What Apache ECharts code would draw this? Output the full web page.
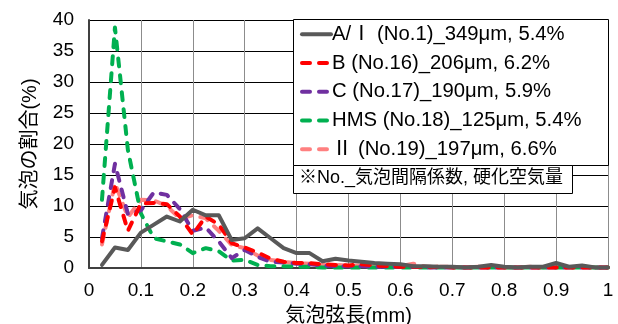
<!DOCTYPE html>
<html><head><meta charset="utf-8">
<script src="https://cdn.jsdelivr.net/npm/echarts@6/dist/echarts.min.js"></script>
<style>html,body{margin:0;padding:0;background:#fff}#c{width:618px;height:324px}</style>
</head><body><div id="c"></div>
<script>
const xValues = [0.025,0.05,0.075,0.1,0.125,0.15,0.175,0.2,0.225,0.25,0.275,0.3,0.325,0.35,0.375,0.4,0.425,0.45,0.475,0.5,0.525,0.55,0.575,0.6,0.625,0.65,0.675,0.7,0.725,0.75,0.775,0.8,0.825,0.85,0.875,0.9,0.925,0.95,0.975,1.0];
const seriesNames = ["A/Ⅰ (No.1)_349μm, 5.4%","B (No.16)_206μm, 6.2%","C (No.17)_190μm, 5.9%","HMS (No.18)_125μm, 5.4%","Ⅱ (No.19)_197μm, 6.6%"];
const valuesA = [0.5,3.3,2.9,5.7,7.0,8.3,7.5,9.4,8.5,8.5,4.5,4.8,6.4,4.8,3.2,2.4,2.4,1.1,1.5,1.2,1.0,0.8,0.7,0.6,0.3,0.3,0.2,0.2,0.1,0.2,0.5,0.2,0.1,0.2,0.2,0.8,0.2,0.4,0.1,0.1];
const valuesB = [4.3,13.0,6.0,10.4,10.5,10.3,8.3,5.4,8.3,7.0,4.0,3.3,2.5,1.5,1.0,0.8,0.8,0.6,0.5,0.4,0.6,0.4,0.3,0.2,0.2,0.1,0.2,0.1,0.1,0.1,0.1,0.1,0.1,0.1,0.1,0.1,0.1,0.1,0.1,0.1];
const valuesC = [4.8,16.8,8.7,9.3,12.2,11.8,9.5,6.0,6.5,4.3,1.6,2.9,1.8,1.0,0.9,0.7,0.6,0.4,0.3,0.3,0.3,0.2,0.2,0.2,0.2,0.1,0.1,0.1,0.1,0.1,0.1,0.1,0.1,0.1,0.1,0.1,0.1,0.1,0.1,0.1];
const valuesHMS = [11.0,38.8,19.0,8.8,4.8,4.3,3.8,2.4,3.2,2.7,1.2,1.3,0.5,0.3,0.3,0.2,0.2,0.1,0.1,0.1,0.1,0.1,0.1,0.1,0.1,0.1,0.1,0.1,0.1,0.1,0.1,0.1,0.1,0.1,0.1,0.1,0.1,0.1,0.1,0.1];
const valuesII = [3.8,13.7,8.2,11.0,10.9,10.0,8.0,8.5,8.0,6.0,3.7,3.2,2.0,1.3,1.0,0.8,0.7,0.5,0.5,0.4,0.4,0.3,0.3,0.3,0.7,0.2,0.2,0.2,0.1,0.2,0.2,0.1,0.1,0.2,0.1,0.2,0.1,0.2,0.1,0.1];
const xTitle = "気泡弦長(mm)";
const yTitle = "気泡の割合(%)";
const noteText = "※No._気泡間隔係数, 硬化空気量";

const allValues = [valuesA, valuesB, valuesC, valuesHMS, valuesII];
const colors = ["#595959","#FF0000","#7030A0","#00B050","#FF8080"];
const FONT = "'Liberation Sans', Arial, 'Noto Sans CJK JP', sans-serif";

const chart = echarts.init(document.getElementById('c'));
const series = allValues.map((vals, i) => ({
  name: seriesNames[i],
  type: 'line',
  symbol: 'none',
  data: xValues.map((x, j) => [x, vals[j]]),
  lineStyle: { color: colors[i], width: 4, type: i === 0 ? 'solid' : [8, 9], cap: 'round', join: 'round' },
  itemStyle: { color: colors[i] },
  z: 10 - i
}));

chart.setOption({
  animation: false,
  textStyle: { fontFamily: FONT },
  grid: { left: 89, right: 10, top: 20, bottom: 56, containLabel: false, outerBoundsMode: 'none' },
  xAxis: {
    type: 'value', min: 0, max: 1, interval: 0.1,
    axisLine: { show: true, onZero: false, lineStyle: { color: '#404040', width: 2 } },
    axisTick: { show: false },
    splitLine: { show: true, lineStyle: { color: '#8c8c8c', width: 1 } },
    axisLabel: { color: '#000', fontSize: 19, margin: 13, fontFamily: FONT },
    name: xTitle, nameLocation: 'middle', nameGap: 38,
    nameTextStyle: { color: '#000', fontSize: 20, fontFamily: FONT }
  },
  yAxis: {
    type: 'value', min: 0, max: 40, interval: 5,
    axisLine: { show: true, lineStyle: { color: '#404040', width: 2 } },
    axisTick: { show: false },
    splitLine: { show: true, lineStyle: { color: '#000', width: 1 } },
    axisLabel: { color: '#000', fontSize: 19, margin: 15, fontFamily: FONT },
    name: yTitle, nameLocation: 'middle', nameGap: 49,
    nameTextStyle: { color: '#000', fontSize: 20, fontFamily: FONT }
  },
  legend: {
    orient: 'vertical', left: 293, top: 19,
    padding: [5, 0, 0, 7],
    itemGap: 8.5, itemWidth: 29, itemHeight: 21,
    z: 20,
    itemStyle: { color: 'transparent', borderColor: 'transparent', borderWidth: 0, opacity: 0 },
    lineStyle: { width: 4, cap: 'round' },
    data: seriesNames,
    textStyle: { color: '#000', fontSize: 20.3, fontFamily: FONT, padding: [0, 0, 0, -4] }
  },
  graphic: [
    { type: 'rect', left: 293, top: 19, z: 15, shape: { width: 315, height: 146 }, style: { fill: '#fff', stroke: '#000', lineWidth: 1 } },
    { type: 'rect', left: 293, top: 165, z: 16, shape: { width: 279, height: 28 }, style: { fill: '#fff', stroke: '#000', lineWidth: 1 } },
    { type: 'text', left: 299, top: 169, z: 17, style: { text: noteText, fontSize: 18, fill: '#000', fontFamily: FONT } }
  ],
  series: series
});
</script></body></html>
